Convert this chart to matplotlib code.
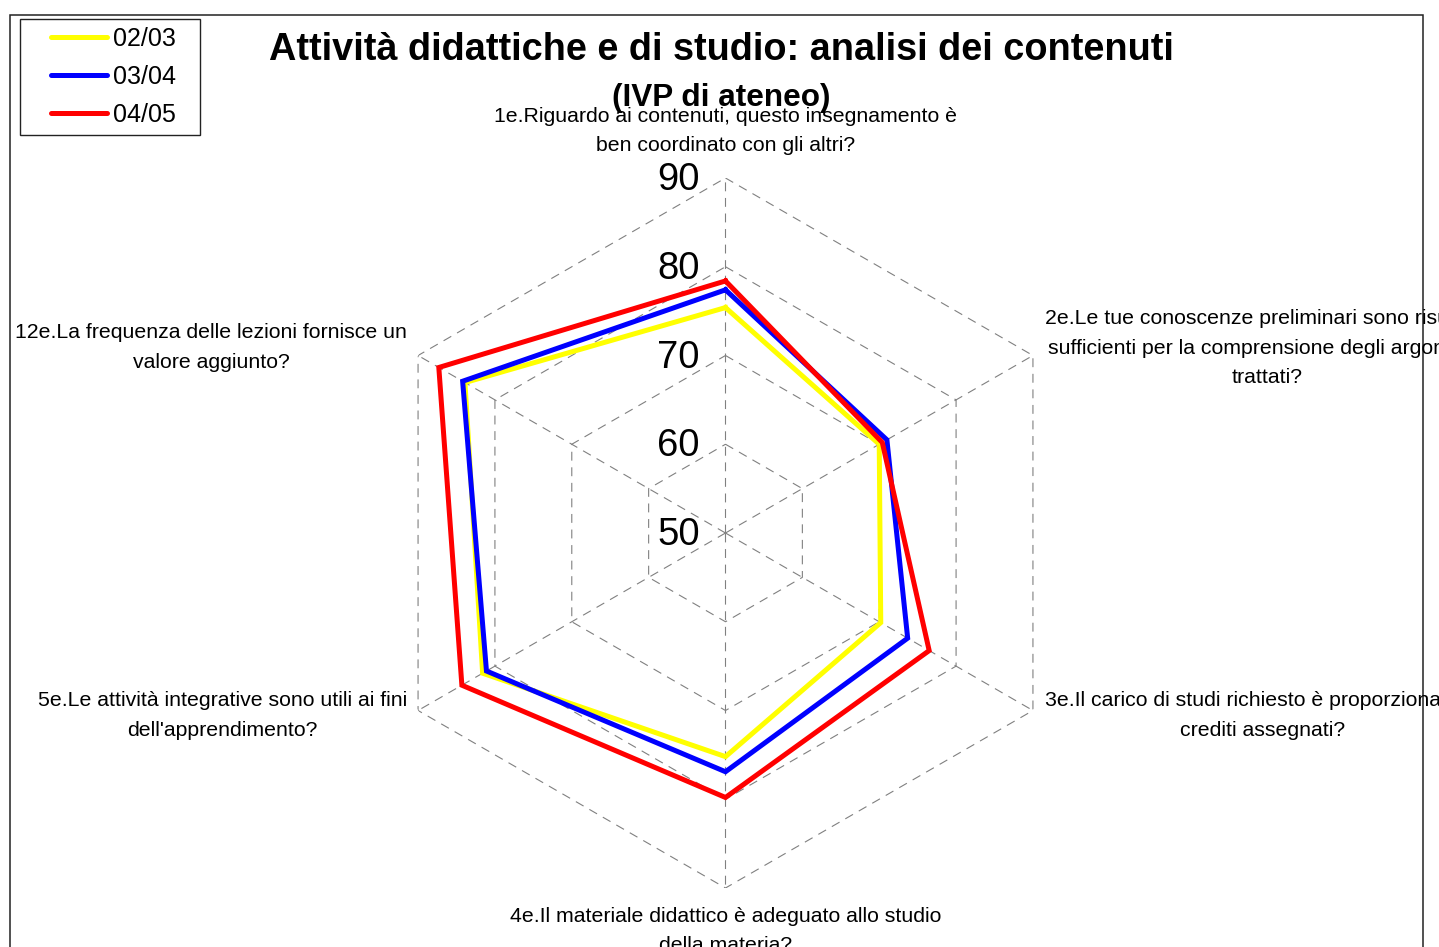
import numpy as np
import matplotlib
matplotlib.use('Agg')
import matplotlib.pyplot as plt
from matplotlib.lines import Line2D
from matplotlib.patches import Rectangle

# ---------------- data ----------------
categories = [
    "1e.Riguardo ai contenuti, questo insegnamento è\nben coordinato con gli altri?",
    "2e.Le tue conoscenze preliminari sono risultate\nsufficienti per la comprensione degli argomenti\ntrattati?",
    "3e.Il carico di studi richiesto è proporzionato ai\ncrediti assegnati?",
    "4e.Il materiale didattico è adeguato allo studio\ndella materia?",
    "5e.Le attività integrative sono utili ai fini\ndell'apprendimento?",
    "12e.La frequenza delle lezioni fornisce un\nvalore aggiunto?",
]
series_labels = ["02/03", "03/04", "04/05"]
values_0203 = [75.4, 70.0, 70.2, 75.2, 81.6, 83.9]
values_0304 = [77.4, 71.0, 73.7, 76.9, 81.1, 84.2]
values_0405 = [78.4, 70.4, 76.5, 79.8, 84.3, 87.3]
ring_values = [50, 60, 70, 80, 90]
title = "Attività didattiche e di studio: analisi dei contenuti"
subtitle = "(IVP di ateneo)"

series_values = [values_0203, values_0304, values_0405]
colors = ["#FFFF00", "#0000FF", "#FF0000"]

# ---------------- figure ----------------
W, H = 1439, 947
plt.rcParams['font.family'] = ['Liberation Sans', 'DejaVu Sans']
fig = plt.figure(figsize=(W / 100, H / 100), dpi=100)


def fx(px):
    return px / W


def fy(py):
    return 1 - py / H


# outer frame
fig.patches.append(Rectangle((fx(10), fy(1000)), fx(1423) - fx(10), fy(15) - fy(1000),
                             transform=fig.transFigure, fill=False,
                             edgecolor='#222222', linewidth=1.1, clip_on=False))

# radar axes
cx, cy, R = 725.5, 533, 355
ax = fig.add_axes([fx(cx - R), fy(cy + R), 2 * R / W, 2 * R / H], projection='polar')
ax.set_theta_offset(np.pi / 2)
ax.set_theta_direction(-1)
ax.set_ylim(ring_values[0], ring_values[-1])
ax.axis('off')

n = len(categories)
theta = np.arange(n) * 2 * np.pi / n
closed = np.append(theta, theta[0])

grid_kw = dict(color='#808080', linewidth=0.8, linestyle=(0, (8, 6)), zorder=1)
for r in ring_values[1:]:
    ax.plot(closed, [r] * (n + 1), **grid_kw)
for t in theta:
    ax.plot([t, t], [ring_values[0], ring_values[-1]], **grid_kw)

for vals, col, lab in zip(series_values, colors, series_labels):
    ax.plot(closed, list(vals) + [vals[0]], color=col, linewidth=3.6,
            solid_joinstyle='miter', zorder=3, label=lab)

for r in ring_values:
    ax.annotate(str(r), xy=(0, r), xytext=(-34, -1.5), textcoords='offset points',
                ha='center', va='center', fontsize=27.5, annotation_clip=False)

# category labels (pixel positions)
lab_fs = 15.3
lab_ls = 1.72
fig.text(fx(726), fy(131), categories[0], ha='center', va='center', ma='center',
         fontsize=lab_fs, linespacing=lab_ls)
fig.text(fx(1045), fy(348), categories[1], ha='left', va='center', ma='center',
         fontsize=lab_fs, linespacing=lab_ls)
fig.text(fx(1045), fy(715.5), categories[2], ha='left', va='center', ma='center',
         fontsize=lab_fs, linespacing=lab_ls)
fig.text(fx(726), fy(931), categories[3], ha='center', va='center', ma='center',
         fontsize=lab_fs, linespacing=lab_ls)
fig.text(fx(407), fy(715.5), categories[4], ha='right', va='center', ma='center',
         fontsize=lab_fs, linespacing=lab_ls)
fig.text(fx(407), fy(347.5), categories[5], ha='right', va='center', ma='center',
         fontsize=lab_fs, linespacing=lab_ls)

# titles
fig.text(fx(721), fy(50), title, ha='center', va='center', fontsize=27.3, fontweight='bold')
fig.text(fx(721), fy(98), subtitle, ha='center', va='center', fontsize=22.7, fontweight='bold')

# legend (manual box)
fig.patches.append(Rectangle((fx(20), fy(135)), fx(200) - fx(20), fy(19) - fy(135),
                             transform=fig.transFigure, fill=False,
                             edgecolor='#222222', linewidth=1.0))
for i, (lab, col) in enumerate(zip(series_labels, colors)):
    yy = 37 + 38 * i
    fig.lines.append(Line2D([fx(51), fx(107)], [fy(yy), fy(yy)], transform=fig.transFigure,
                            color=col, linewidth=3.6, solid_capstyle='round'))
    fig.text(fx(113), fy(yy + 1.5), lab, ha='left', va='center', fontsize=18)

fig.savefig('out.png', dpi=100)
